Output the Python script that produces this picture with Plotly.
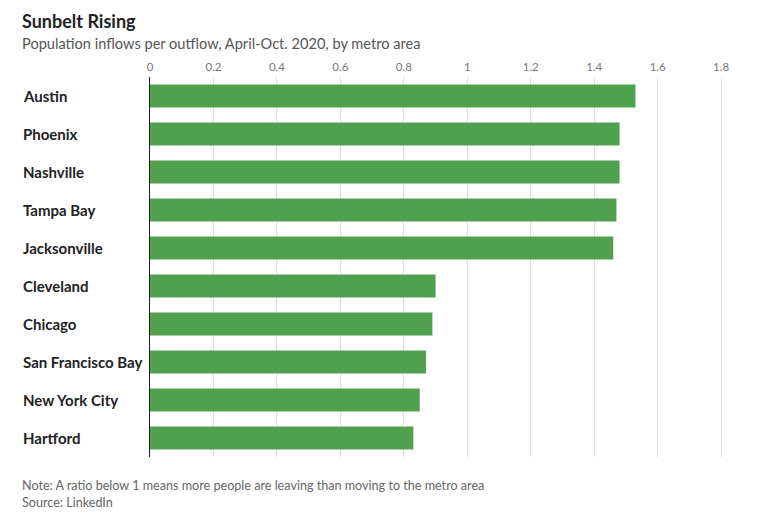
import plotly.graph_objects as go

metros = ['Austin', 'Phoenix', 'Nashville', 'Tampa Bay', 'Jacksonville',
          'Cleveland', 'Chicago', 'San Francisco Bay', 'New York City', 'Hartford']
ratios = [1.53, 1.48, 1.48, 1.47, 1.46, 0.90, 0.89, 0.87, 0.85, 0.83]
tick_vals = [0, 0.2, 0.4, 0.6, 0.8, 1, 1.2, 1.4, 1.6, 1.8]
tick_text = ['0', '0.2', '0.4', '0.6', '0.8', '1', '1.2', '1.4', '1.6', '1.8']

FONT = 'Lato'
LEFT = -0.2221  # paper x of the text column

fig = go.Figure()
fig.add_trace(go.Bar(
    x=ratios,
    y=metros,
    orientation='h',
    marker=dict(color='#50a04e', line=dict(width=0)),
    hoverinfo='x+y',
))

# left-aligned category labels
for m in metros:
    fig.add_annotation(
        x=LEFT + 0.0017, xref='paper', y=m, yref='y',
        text='<b>%s</b>' % m, showarrow=False,
        xanchor='left', yanchor='middle',
        font=dict(family=FONT, size=15, color='#222'),
    )

fig.add_annotation(x=LEFT, xref='paper', y=1.148, yref='paper', yanchor='middle', xanchor='left',
                   text='<b>Sunbelt Rising</b>', showarrow=False,
                   font=dict(family=FONT, size=18, color='#222'))
fig.add_annotation(x=LEFT, xref='paper', y=1.088, yref='paper', yanchor='middle', xanchor='left',
                   text='Population inflows per outflow, April-Oct. 2020, by metro area', showarrow=False,
                   font=dict(family=FONT, size=14.6, color='#555'))
fig.add_annotation(x=LEFT, xref='paper', y=-0.074, yref='paper', yanchor='middle', xanchor='left',
                   text='Note: A ratio below 1 means more people are leaving than moving to the metro area',
                   showarrow=False, font=dict(family=FONT, size=12.6, color='#666'))
fig.add_annotation(x=LEFT, xref='paper', y=-0.119, yref='paper', yanchor='middle', xanchor='left',
                   text='Source: LinkedIn', showarrow=False,
                   font=dict(family=FONT, size=12.6, color='#666'))

fig.update_layout(
    width=754, height=523,
    margin=dict(l=141.5, r=25, t=68.5, b=73.5),
    plot_bgcolor='white', paper_bgcolor='white',
    bargap=0.4,
    showlegend=False,
    font=dict(family=FONT),
    xaxis=dict(
        side='top', range=[0, 1.85],
        tickvals=tick_vals, ticktext=tick_text,
        showgrid=True, gridcolor='#e0e0e0', gridwidth=1,
        zeroline=False, showline=False, ticks='',
        ticklabelstandoff=3,
        tickfont=dict(family=FONT, size=11.5, color='#777'),
    ),
    yaxis=dict(
        autorange='reversed', showticklabels=False,
        showline=True, linecolor='#222', linewidth=1,
        showgrid=False, zeroline=False, ticks='',
    ),
)

fig.write_html("out.html")
